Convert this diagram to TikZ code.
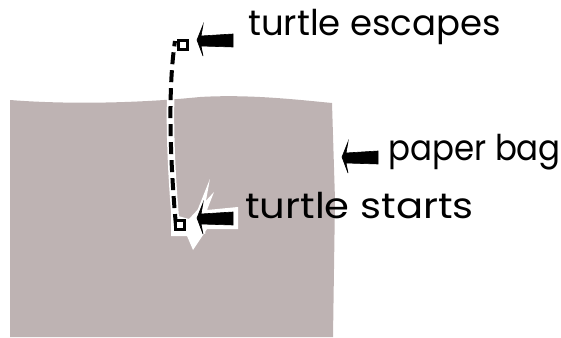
\documentclass[tikz,border=0pt]{standalone}
\usepackage{fontspec}
\setmainfont{Poppins}
\definecolor{bagcol}{RGB}{190,179,179}
\tikzset{
  px/.style={x=1pt,y=-1pt},
  lbl/.style={anchor=base west,inner sep=0pt,font=\fontsize{35.5}{40}\selectfont},
  halo/.style={draw=white,line width=5pt,line join=miter,miter limit=10},
  arrowfill/.style={fill=black,draw=black,line width=0.6pt,line join=miter},
  pathline/.style={line width=4pt,dash pattern=on 12pt off 6pt},
  turtlebox/.style={draw=black,line width=2.5pt,fill=white,minimum size=9pt,inner sep=0pt}
}
\begin{document}
\begin{tikzpicture}[px]
\useasboundingbox (0,0) rectangle (561,337);
% paper bag
\fill[bagcol] (10,100) .. controls (60,104) and (130,104) .. (200,97)
  .. controls (250,94) and (300,100) .. (332,103)
  -- (335,200) -- (333,337) -- (10,337) -- (10,220) -- cycle;
% named points
\coordinate (pstart) at (176,226);
\coordinate (pend) at (175,41);
% white halo around start arrow
\fill[white] (189,219) -- (214,192) -- (207,210) -- (238,207) -- (238,229) -- (207,229) -- (193,250) -- (187,236) -- (171,236) -- (171,214) -- cycle;
% turtle path
\draw[white,line width=7.5pt] (pstart) .. controls (171,170) and (167,95) .. (pend);
\draw[pathline] (pstart) .. controls (171,170) and (167,95) .. (pend);
% turtles
\node[turtlebox] (tstart) at (180,225) {};
\node[turtlebox] (tend) at (183,45) {};
% arrow shapes
\newcommand{\blkarrow}[1]{%
  \draw[halo] (#1) -- ++(6,-15) -- ++(-2,11) -- ++(32,-2) -- ++(0,13) -- ++(-32,-1) -- ++(2,10) -- cycle;
  \draw[arrowfill] (#1) -- ++(6,-15) -- ++(-2,11) -- ++(32,-2) -- ++(0,13) -- ++(-32,-1) -- ++(2,10) -- cycle;
}
\coordinate (a1) at (197,40);
\coordinate (a2) at (197,218);
\coordinate (a3) at (342,157);
\blkarrow{a1}
\blkarrow{a2}
\blkarrow{a3}
% labels
\node[lbl] (lesc) at (248,36) {turtle escapes};
\node[lbl] (lsta) at (245,218) {\scalebox{1.13}[1]{turtle starts}};
\node[lbl] (lbag) at (388,160) {\scalebox{0.915}[1]{paper bag}};
\end{tikzpicture}
\end{document}
